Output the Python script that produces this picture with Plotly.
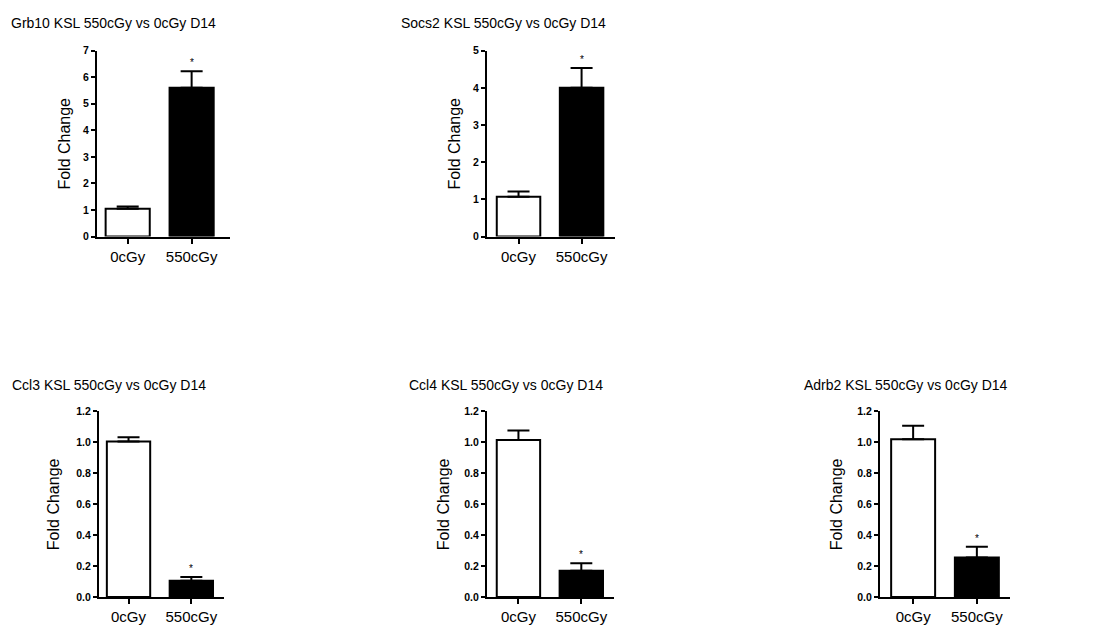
import plotly.graph_objects as go

W, H = 1098, 634

categories = ["0cGy", "550cGy"]

titles = [
    "Grb10 KSL 550cGy vs 0cGy D14",
    "Socs2 KSL 550cGy vs 0cGy D14",
    "Ccl3 KSL 550cGy vs 0cGy D14",
    "Ccl4 KSL 550cGy vs 0cGy D14",
    "Adrb2 KSL 550cGy vs 0cGy D14",
]
means = [
    [1.05, 5.60],
    [1.07, 4.00],
    [1.005, 0.105],
    [1.015, 0.17],
    [1.02, 0.255],
]
errors = [
    [0.08, 0.62],
    [0.14, 0.53],
    [0.028, 0.024],
    [0.062, 0.048],
    [0.087, 0.07],
]
significant = [
    [False, True],
    [False, True],
    [False, True],
    [False, True],
    [False, True],
]
y_max = [7, 5, 1.2, 1.2, 1.2]
y_dtick = [1, 1, 0.2, 0.2, 0.2]
y_fmt = ["d", "d", ".1f", ".1f", ".1f"]

# layout (pixels)
x_dom_px = [(97, 230), (487, 615), (99, 224), (487, 614), (880, 1010)]
y_dom_px = [(235, 45.5), (235, 45.5), (602.3, 413.3), (602.3, 413.3), (602.3, 413.3)]
title_pos = [(9, 17), (399, 17), (10, 386), (407, 386), (802, 386)]
ytitle_x = [65, 455, 53, 443, 836]
x_ranges = [(-0.48, 1.6), (-0.5, 1.53), (-0.47, 1.52), (-0.5, 1.52), (-0.52, 1.52)]

fig = go.Figure()
annotations = []
font_main = "Liberation Sans, Arial, sans-serif"

for i in range(5):
    ax = "" if i == 0 else str(i + 1)
    xa, ya = "x" + ax, "y" + ax
    fig.add_trace(go.Bar(
        x=categories, y=means[i],
        xaxis=xa, yaxis=ya,
        width=0.69,
        marker=dict(color=["white", "black"], line=dict(color="black", width=2)),
        error_y=dict(type="data", symmetric=False, array=errors[i],
                     arrayminus=[0, 0], color="black", thickness=2, width=11),
        showlegend=False, hoverinfo="skip",
    ))
    x0, x1 = x_dom_px[i]
    yb, yt = y_dom_px[i]
    fig.update_layout(**{
        ("xaxis" + ax): dict(
            domain=[x0 / W, x1 / W], anchor=ya, type="category",
            range=list(x_ranges[i]),
            showline=True, linecolor="black", linewidth=2,
            ticks="outside", ticklen=5, tickwidth=2, tickcolor="black",
            showgrid=False, zeroline=False,
            tickfont=dict(family=font_main, size=15, color="black"),
        ),
        ("yaxis" + ax): dict(
            domain=[1 - yb / H, 1 - yt / H], anchor=xa,
            range=[0, y_max[i]], dtick=y_dtick[i], tick0=0,
            tickformat=y_fmt[i],
            showline=True, linecolor="black", linewidth=2,
            ticks="outside", ticklen=4, tickwidth=2, tickcolor="black",
            showgrid=False, zeroline=False,
            tickfont=dict(family="Liberation Sans", size=10.5, color="black", weight=700),
        ),
    })
    tx, ty = title_pos[i]
    annotations.append(dict(
        text=titles[i], xref="paper", yref="paper",
        x=tx / W, y=1 - ty / H, xanchor="left", yanchor="middle",
        showarrow=False, font=dict(family=font_main, size=14, color="black"),
    ))
    annotations.append(dict(
        text="Fold Change", xref="paper", yref="paper",
        x=ytitle_x[i] / W, y=1 - ((yb + yt) / 2) / H, textangle=-90,
        xanchor="center", yanchor="middle",
        showarrow=False, font=dict(family=font_main, size=16, color="black"),
    ))
    for j, cat in enumerate(categories):
        if significant[i][j]:
            annotations.append(dict(
                text="*", xref=xa, yref=ya, x=cat, y=means[i][j] + errors[i][j],
                xanchor="center", yanchor="bottom", yshift=1,
                showarrow=False, font=dict(family=font_main, size=10, color="black"),
            ))

fig.update_layout(
    width=W, height=H,
    margin=dict(l=0, r=0, t=0, b=0),
    paper_bgcolor="white", plot_bgcolor="white",
    annotations=annotations,
    bargap=0.3,
)

fig.write_html("out.html")
